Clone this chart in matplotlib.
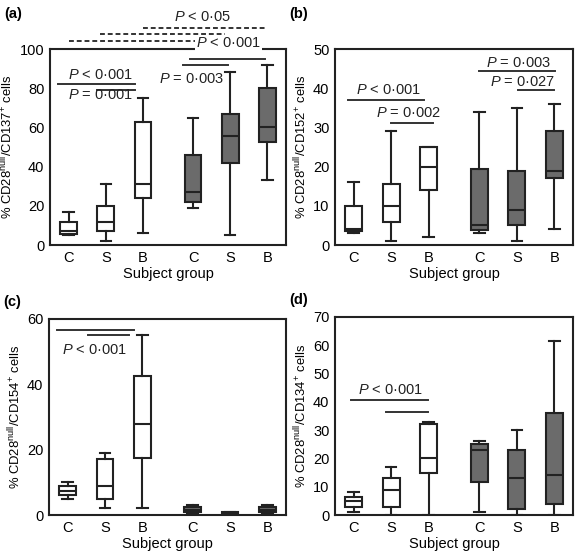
import matplotlib
matplotlib.use('Agg')
import matplotlib.pyplot as plt

plt.rcParams['font.family'] = ['Liberation Sans', 'DejaVu Sans']
plt.rcParams['mathtext.fontset'] = 'custom'
plt.rcParams['mathtext.rm'] = 'Liberation Sans'
plt.rcParams['mathtext.it'] = 'Liberation Sans:italic'

groups = ['C', 'S', 'B', 'C', 'S', 'B']
positions = [0, 1, 2, 3.35, 4.35, 5.35]

# box stats per panel: whisker low, q1, median, q3, whisker high
a_lo = [5, 2, 6, 19, 5, 33]
a_q1 = [5.5, 7, 24, 22, 42, 52.5]
a_med = [7, 12, 31, 27, 55.5, 60]
a_q3 = [12, 20, 63, 46, 67, 80]
a_hi = [17, 31, 75, 65, 88.5, 92]

b_lo = [3, 1, 2, 3, 1, 4]
b_q1 = [3.6, 6, 14, 3.8, 5, 17]
b_med = [4, 10, 20, 5, 9, 19]
b_q3 = [10, 15.5, 25, 19.5, 19, 29]
b_hi = [16, 29, 25, 34, 35, 36]

c_lo = [5, 2, 2, 0.5, 0, 0.5]
c_q1 = [6, 5, 17.5, 0.8, 0.1, 0.8]
c_med = [7.5, 9, 28, 1.5, 0.4, 1.5]
c_q3 = [9, 17, 42.5, 2.5, 0.8, 2.3]
c_hi = [10, 19, 55, 3, 1, 3]

d_lo = [1, 0, 0, 1, 0, 0]
d_q1 = [3, 3, 15, 11.5, 2, 4]
d_med = [5, 9, 20, 23, 13, 14]
d_q3 = [6.5, 13, 32, 25, 23, 36]
d_hi = [8, 17, 33, 26, 30, 61.5]

ylabels = [r'% CD28$^{\mathrm{null}}$/CD137$^{+}$ cells',
           r'% CD28$^{\mathrm{null}}$/CD152$^{+}$ cells',
           r'% CD28$^{\mathrm{null}}$/CD154$^{+}$ cells',
           r'% CD28$^{\mathrm{null}}$/CD134$^{+}$ cells']
panel_tags = ['(a)', '(b)', '(c)', '(d)']
ymaxes = [100, 50, 60, 70]
ysteps = [20, 10, 20, 10]

# significance bars: (x0, x1, y, dashed)
a_bars = [(-0.28, 1.78, 82, False), (0.76, 1.78, 79, False),
          (3.08, 4.28, 92, False), (3.26, 5.28, 95, False),
          (0, 3.4, 104, True), (0.85, 4.2, 107.7, True), (2, 5.3, 110.7, True)]
a_texts = [(0.87, 86.6, '$P$ < 0·001'), (0.85, 76.3, '$P$ = 0·001'),
           (3.3, 84.7, '$P$ = 0·003'), (4.3, 103, '$P$ < 0·001'),
           (3.6, 116.3, '$P$ < 0·05')]
b_bars = [(-0.15, 1.87, 37, False), (0.99, 2.11, 31.1, False),
          (3.34, 5.37, 44.3, False), (4.38, 5.35, 39.6, False)]
b_texts = [(0.94, 39.6, '$P$ < 0·001'), (1.47, 33.6, '$P$ = 0·002'),
           (4.4, 46.4, '$P$ = 0·003'), (4.5, 41.7, '$P$ = 0·027')]
c_bars = [(-0.28, 1.78, 56.5, False), (0.55, 1.65, 55, False)]
c_texts = [(0.71, 50.6, '$P$ < 0·001')]
d_bars = [(-0.07, 1.98, 40.8, False), (0.86, 1.98, 36.3, False)]
d_texts = [(0.99, 44.3, '$P$ < 0·001')]

fig = plt.figure(figsize=(5.76, 5.57), dpi=100)
rects = [[0.0868, 0.5601, 0.4097, 0.3519],
         [0.5816, 0.5601, 0.4132, 0.3519],
         [0.0851, 0.0754, 0.4114, 0.3519],
         [0.5816, 0.0754, 0.4132, 0.3555]]
tag_pos = [(0.008, 0.975), (0.502, 0.975), (0.005, 0.458), (0.502, 0.462)]

stats_all = [(a_lo, a_q1, a_med, a_q3, a_hi), (b_lo, b_q1, b_med, b_q3, b_hi),
             (c_lo, c_q1, c_med, c_q3, c_hi), (d_lo, d_q1, d_med, d_q3, d_hi)]
bars_all = [a_bars, b_bars, c_bars, d_bars]
texts_all = [a_texts, b_texts, c_texts, d_texts]

for i in range(4):
    ax = fig.add_axes(rects[i])
    lo, q1, med, q3, hi = stats_all[i]
    stats = []
    for j in range(6):
        stats.append({'whislo': lo[j], 'q1': q1[j], 'med': med[j],
                      'q3': q3[j], 'whishi': hi[j], 'fliers': []})
    lw = 1.5
    res = ax.bxp(stats, positions=positions, widths=0.45, patch_artist=True,
                 showfliers=False,
                 boxprops=dict(linewidth=lw, edgecolor='#222222'),
                 medianprops=dict(linewidth=lw, color='#222222'),
                 whiskerprops=dict(linewidth=lw, color='#222222'),
                 capprops=dict(linewidth=lw, color='#222222'),
                 capwidths=0.28)
    for j, box in enumerate(res['boxes']):
        box.set_facecolor('white' if j < 3 else '#6b6b6b')

    ax.set_xlim(-0.5, 5.85)
    ax.set_ylim(0, ymaxes[i])
    ax.set_yticks(range(0, ymaxes[i] + 1, ysteps[i]))
    ax.set_xticks(positions)
    ax.set_xticklabels(groups)
    ax.tick_params(length=0, labelsize=10.5, pad=4)
    ax.set_xlabel('Subject group', fontsize=10.5, labelpad=2)
    ax.set_ylabel(ylabels[i], fontsize=9.4, labelpad=3)
    for sp in ax.spines.values():
        sp.set_linewidth(1.5)
        sp.set_color('#222222')

    for x0, x1, y, dashed in bars_all[i]:
        ax.plot([x0, x1], [y, y], color='#333333', lw=1.4,
                ls=(0, (2.5, 1.5)) if dashed else '-', clip_on=False, zorder=4)
    for x, y, s in texts_all[i]:
        bb = None
        if y > ymaxes[i]:
            bb = dict(facecolor='white', edgecolor='none', pad=0.5)
        ax.text(x, y, s, ha='center', va='center', fontsize=10.5,
                color='#222222', bbox=bb, zorder=5, clip_on=False)

    fig.text(tag_pos[i][0], tag_pos[i][1], panel_tags[i], fontsize=10.5,
             fontweight='bold', ha='left', va='center')

fig.savefig('out.png', dpi=100)
